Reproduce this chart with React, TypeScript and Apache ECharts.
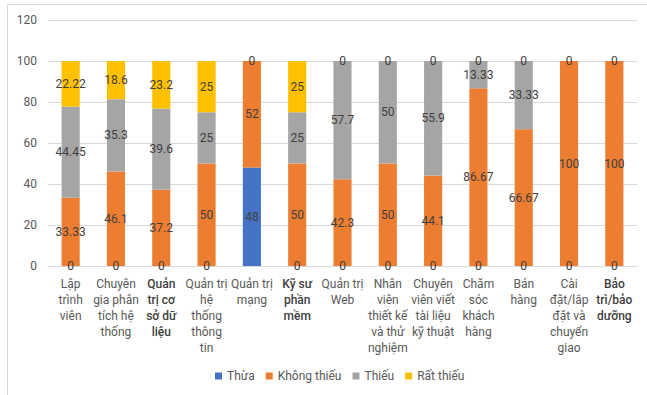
import React, { useEffect, useRef } from "react";
import * as echarts from "echarts";

const categories = [
  "Lập\ntrình\nviên",
  "Chuyên\ngia phân\ntích hệ\nthống",
  "Quản\ntrị cơ\nsở dữ\nliệu",
  "Quản trị\nhệ\nthống\nthông\ntin",
  "Quản trị\nmạng",
  "Kỹ sư\nphần\nmềm",
  "Quản trị\nWeb",
  "Nhân\nviên\nthiết kế\nvà thử\nnghiệm",
  "Chuyên\nviên viết\ntài liệu\nkỹ thuật",
  "Chăm\nsóc\nkhách\nhàng",
  "Bán\nhàng",
  "Cài\nđặt/lắp\nđặt và\nchuyển\ngiao",
  "Bảo\ntrì/bảo\ndưỡng",
];
const boldCategories = [2, 5, 12];

const seriesNames = ["Thừa", "Không thiếu", "Thiếu", "Rất thiếu"];
const thua = [0, 0, 0, 0, 48, 0, 0, 0, 0, 0, 0, 0, 0];
const khongThieu = [33.33, 46.1, 37.2, 50, 52, 50, 42.3, 50, 44.1, 86.67, 66.67, 100, 100];
const thieu = [44.45, 35.3, 39.6, 25, 0, 25, 57.7, 50, 55.9, 13.33, 33.33, 0, 0];
const ratThieu = [22.22, 18.6, 23.2, 25, 0, 25, 0, 0, 0, 0, 0, 0, 0];
const colors = ["#4472C4", "#ED7D31", "#A5A5A5", "#FFC000"];
const yTicks = { min: 0, max: 120, interval: 20 };

export default function App() {
  const ref = useRef<HTMLDivElement>(null);
  useEffect(() => {
    document.body.style.margin = "0";
    const chart = echarts.init(ref.current!, null, { renderer: "svg" });
    const dataSets = [thua, khongThieu, thieu, ratThieu];
    chart.setOption({
      animation: false,
      backgroundColor: "#ffffff",
      textStyle: { fontFamily: "Roboto" },
      grid: { left: 48, right: 10, top: 20, bottom: 129 },
      graphic: [
        { type: "line", shape: { x1: 7, y1: 4.5, x2: 647, y2: 4.5 }, style: { stroke: "#d9d9d9", lineWidth: 1 } },
        { type: "line", shape: { x1: 7.5, y1: 4, x2: 7.5, y2: 395 }, style: { stroke: "#d9d9d9", lineWidth: 1 } },
      ],
      legend: {
        bottom: 8,
        left: 210,
        itemWidth: 7,
        itemHeight: 7,
        itemGap: 11,
        icon: "rect",
        textStyle: { color: "#595959", fontSize: 12, fontFamily: "Roboto" },
        data: seriesNames,
      },
      xAxis: {
        type: "category",
        data: categories,
        axisLine: { show: true, lineStyle: { color: "#d9d9d9" } },
        axisTick: { show: false },
        axisLabel: {
          interval: 0,
          margin: 10,
          color: "#595959",
          fontSize: 12,
          lineHeight: 16,
          formatter: (v: string, i: number) =>
            boldCategories.includes(i)
              ? v.split("\n").map((l) => `{b|${l}}`).join("\n")
              : v,
          rich: {
            b: { fontWeight: 500, color: "#404040", fontSize: 12, lineHeight: 16, fontFamily: "Roboto" },
          },
        },
      },
      yAxis: {
        type: "value",
        min: yTicks.min,
        max: yTicks.max,
        interval: yTicks.interval,
        axisLine: { show: false },
        axisTick: { show: false },
        splitLine: { lineStyle: { color: "#d9d9d9" } },
        axisLabel: { color: "#595959", fontSize: 12, margin: 11 },
      },
      series: seriesNames.map((name, i) => ({
        name,
        type: "bar",
        stack: "total",
        barCategoryGap: "60%",
        data: dataSets[i].map((v, j) =>
          // the two zero segments at the top of a bar share one label spot
          i === 2 && v === 0 && ratThieu[j] === 0
            ? { value: v, label: { show: false } }
            : v
        ),
        itemStyle: { color: colors[i] },
        label: {
          show: true,
          position: "inside",
          color: "#404040",
          fontSize: 12,
          fontFamily: "Roboto",
        },
      })),
    });
    return () => chart.dispose();
  }, []);
  return <div ref={ref} style={{ width: 647, height: 395 }} />;
}
